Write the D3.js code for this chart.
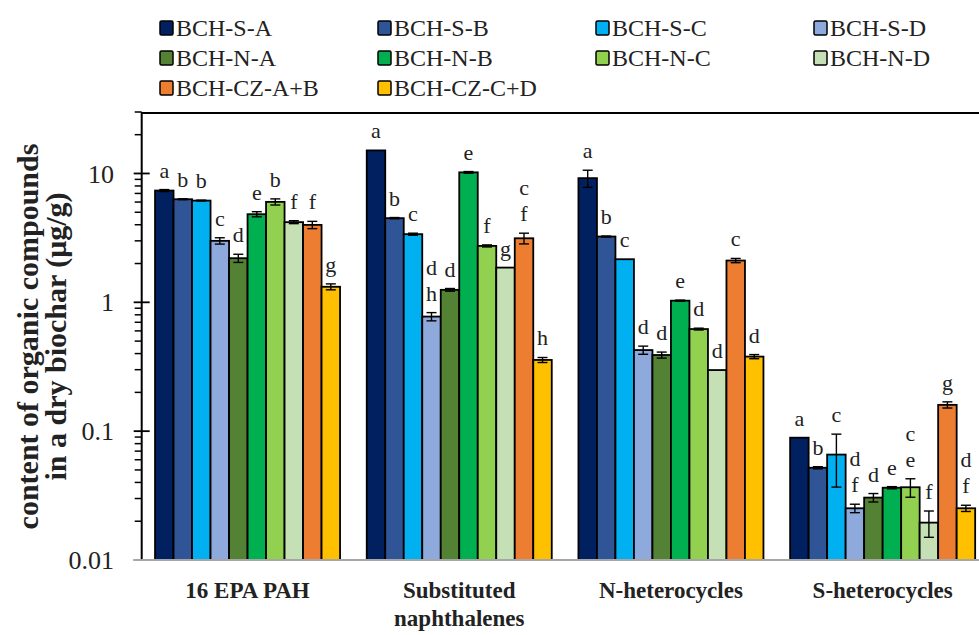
<!DOCTYPE html>
<html><head><meta charset="utf-8">
<script src="https://cdn.jsdelivr.net/npm/d3@7"></script>
<style>
html,body{margin:0;padding:0;background:#fff;}
svg{display:block;}
svg text{font-family:"Liberation Serif","Times New Roman",serif;fill:#222;}
</style></head>
<body>
<svg id="chart" width="979" height="635"></svg>
<script>
const categories = ["16 EPA PAH", "Substituted\nnaphthalenes", "N-heterocycles", "S-heterocycles"];
const seriesNames = ["BCH-S-A","BCH-S-B","BCH-S-C","BCH-S-D","BCH-N-A","BCH-N-B","BCH-N-C","BCH-N-D","BCH-CZ-A+B","BCH-CZ-C+D"];
const colors = ["#002060","#2F5597","#00B0F0","#8EA9DB","#548235","#00B050","#92D050","#C5E0B4","#ED7D31","#FFC000"];
// values per series, one per category
const vSA  = [7.37, 15.1, 9.2, 0.089];
const vSB  = [6.31, 4.5, 3.24, 0.052];
const vSC  = [6.16, 3.38, 2.16, 0.0658];
const vSD  = [3.0, 0.775, 0.426, 0.0252];
const vNA  = [2.2, 1.25, 0.39, 0.0305];
const vNB  = [4.83, 10.2, 1.03, 0.0364];
const vNC  = [6.02, 2.74, 0.62, 0.0367];
const vND  = [4.19, 1.86, 0.298, 0.0195];
const vCZAB= [3.99, 3.14, 2.11, 0.16];
const vCZCD= [1.32, 0.357, 0.379, 0.0252];
// standard deviations
const eSA  = [0.13, 0, 1.4, 0];
const eSB  = [0.05, 0.05, 0.03, 0.001];
const eSC  = [0.05, 0.06, 0, 0.029];
const eSD  = [0.17, 0.057, 0.031, 0.0019];
const eNA  = [0.16, 0.03, 0.021, 0.0023];
const eNB  = [0.22, 0.15, 0.01, 0.0007];
const eNC  = [0.33, 0.05, 0.01, 0.006];
const eND  = [0.11, 0, 0, 0.0045];
const eCZAB= [0.26, 0.3, 0.08, 0.0088];
const eCZCD= [0.07, 0.016, 0.014, 0.0014];
// significance letters
const lSA  = ["a","a","a","a"];
const lSB  = ["b","b","b","b"];
const lSC  = ["b","c","c","c"];
const lSD  = ["c","d h","d","d f"];
const lNA  = ["d","d","d","d"];
const lNB  = ["e","e","e","e"];
const lNC  = ["b","f","d","c e"];
const lND  = ["f","g","d","f"];
const lCZAB= ["f","c f","c","g"];
const lCZCD= ["g","h","d","d f"];
const yTicks = [0.01, 0.1, 1, 10];
const yTitle = ["content of organic compounds", "in a dry biochar (\u03bcg/g)"];

const values = [vSA,vSB,vSC,vSD,vNA,vNB,vNC,vND,vCZAB,vCZCD];
const errors = [eSA,eSB,eSC,eSD,eNA,eNB,eNC,eND,eCZAB,eCZCD];
const letters = [lSA,lSB,lSC,lSD,lNA,lNB,lNC,lND,lCZAB,lCZCD];

const FONT = "'Liberation Serif','Times New Roman',serif";
const svg = d3.select("#chart");
const pLeft = 141.7, pRight = 988.5, pTop = 112, pBottom = 560;

const x0 = d3.scaleBand().domain(categories).range([pLeft, pRight]).paddingInner(0.126).paddingOuter(0.063);
const x1 = d3.scaleBand().domain(seriesNames).range([0, x0.bandwidth()]).padding(0);
const y = d3.scaleLog().domain([0.01, 30]).range([pBottom, pTop]);

// frame top line
svg.append("line").attr("x1", pLeft).attr("x2", 979).attr("y1", pTop+1).attr("y2", pTop+1)
  .attr("stroke", "#000").attr("stroke-width", 2);

// data rows
const rows = [];
seriesNames.forEach((s, si) => categories.forEach((c, ci) => {
  rows.push({s, si, c, ci, v: values[si][ci], e: errors[si][ci], l: letters[si][ci]});
}));

const g = svg.append("g");
g.selectAll("rect.bar").data(rows).join("rect").attr("class","bar")
  .attr("x", d => x0(d.c) + x1(d.s))
  .attr("width", x1.bandwidth())
  .attr("y", d => y(d.v))
  .attr("height", d => pBottom - y(d.v))
  .attr("fill", d => colors[d.si])
  .attr("stroke", "#000").attr("stroke-width", 1.8);

// error bars
const eg = g.selectAll("g.err").data(rows.filter(d => d.e > 0)).join("g").attr("class","err")
  .attr("transform", d => `translate(${x0(d.c) + x1(d.s) + x1.bandwidth()/2},0)`);
eg.append("line").attr("x1",0).attr("x2",0)
  .attr("y1", d => y(d.v + d.e)).attr("y2", d => y(Math.max(d.v - d.e, 0.0101)))
  .attr("stroke","#000").attr("stroke-width",1.4);
eg.append("line").attr("x1",-5).attr("x2",5)
  .attr("y1", d => y(d.v + d.e)).attr("y2", d => y(d.v + d.e))
  .attr("stroke","#000").attr("stroke-width",1.4);
eg.append("line").attr("x1",-5).attr("x2",5)
  .attr("y1", d => y(d.v - d.e)).attr("y2", d => y(d.v - d.e))
  .attr("stroke","#000").attr("stroke-width",1.4);

// letters
rows.forEach(d => {
  const parts = d.l.split(" ");
  const cx = x0(d.c) + x1(d.s) + x1.bandwidth()/2;
  const base = y(d.v + d.e) - 12;
  parts.forEach((p, i) => {
    g.append("text").attr("x", cx).attr("y", base - (parts.length - 1 - i) * 26)
      .attr("text-anchor","middle").attr("font-family", FONT).attr("font-size", 22).attr("fill","#333").text(p);
  });
});

// y axis
const yAxisG = svg.append("g");
yAxisG.append("line").attr("x1", pLeft).attr("x2", pLeft).attr("y1", pTop).attr("y2", pBottom)
  .attr("stroke","#000").attr("stroke-width",2);
const minor = [];
[0.01, 0.1, 1, 10].forEach(dec => { for (let k = 2; k <= 9; k++) { const v = dec*k; if (v <= 30) minor.push(v); } });
yAxisG.selectAll("line.minor").data(minor).join("line").attr("class","minor")
  .attr("x1", pLeft - 7).attr("x2", pLeft).attr("y1", d => y(d)).attr("y2", d => y(d))
  .attr("stroke","#000").attr("stroke-width",1.5);
yAxisG.selectAll("line.major").data(yTicks).join("line").attr("class","major")
  .attr("x1", pLeft - 8).attr("x2", pLeft + 8).attr("y1", d => y(d)).attr("y2", d => y(d))
  .attr("stroke","#000").attr("stroke-width",1.8);
yAxisG.selectAll("text.tl").data(yTicks).join("text").attr("class","tl")
  .attr("x", 114).attr("y", d => y(d)).attr("dy","0.35em")
  .attr("text-anchor","end").attr("font-family", FONT).attr("font-size", 26).attr("fill","#333")
  .text(d => d3.format("")(d));

// x axis line (gray)
svg.append("line").attr("x1", pLeft - 8).attr("x2", 979).attr("y1", pBottom).attr("y2", pBottom)
  .attr("stroke","#A6A6A6").attr("stroke-width",2);

// x labels
categories.forEach(c => {
  const lines = c.split("\n");
  lines.forEach((ln, i) => {
    svg.append("text").attr("x", x0(c) + x0.bandwidth()/2).attr("y", 598 + i*28)
      .attr("text-anchor","middle").attr("font-family", FONT).attr("font-size", 23).attr("font-weight","bold")
      .attr("fill","#111").text(ln);
  });
});

// y title
yTitle.forEach((t, i) => {
  svg.append("text").attr("transform", `translate(${38 + i*28},336.5) rotate(-90)`)
    .attr("text-anchor","middle").attr("font-family", FONT).attr("font-size", 30).attr("font-weight","bold")
    .attr("fill","#111").text(t);
});

// legend
const lg = svg.append("g");
seriesNames.forEach((s, i) => {
  const col = i % 4, row = Math.floor(i / 4);
  const lx = 160 + col * 218, ly = 28 + row * 30;
  lg.append("rect").attr("x", lx).attr("y", ly - 7).attr("width", 13).attr("height", 14).attr("rx", 1.5)
    .attr("fill", colors[i]).attr("stroke","#000").attr("stroke-width",1.5);
  lg.append("text").attr("x", lx + 16).attr("y", ly + 8).attr("font-family", FONT).attr("font-size", 24)
    .attr("fill","#222").text(s);
});
</script>
</body></html>
